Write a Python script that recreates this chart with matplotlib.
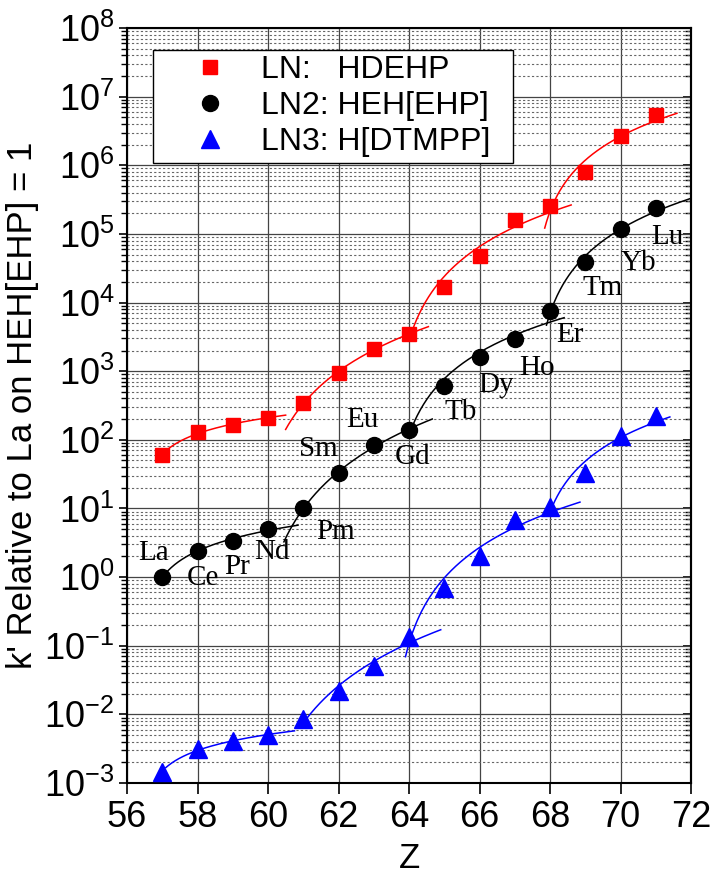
import numpy as np
import matplotlib.pyplot as plt
from matplotlib.ticker import LogLocator, MultipleLocator, NullFormatter, LogFormatterMathtext

plt.rcParams["font.family"] = "Liberation Sans"
plt.rcParams["mathtext.fontset"] = "custom"
plt.rcParams["mathtext.rm"] = "Liberation Sans"
plt.rcParams["mathtext.it"] = "Liberation Sans:italic"

# lanthanide series, atomic number and symbol
z = np.array([57, 58, 59, 60, 61, 62, 63, 64, 65, 66, 67, 68, 69, 70, 71])
elements = ["La", "Ce", "Pr", "Nd", "Pm", "Sm", "Eu", "Gd",
            "Tb", "Dy", "Ho", "Er", "Tm", "Yb", "Lu"]

# k' relative to La on HEH[EHP]
k_ln = np.array([60, 131, 165, 208, 344, 946, 2080, 3520,
                 17100, 47600, 1.6e5, 2.51e5, 8.0e5, 2.7e6, 5.46e6])
k_ln2 = np.array([1.0, 2.4, 3.37, 5.1, 10.0, 33, 83, 140,
                  603, 1600, 2900, 7550, 3.94e4, 1.17e5, 2.37e5])
k_ln3 = np.array([0.00147, 0.0031, 0.0041, 0.0050, 0.0085, 0.022, 0.050, 0.135,
                  0.69, 2.03, 6.7, 10.4, 33, 112, 220])

# tetrad groups (inclusive Z ranges) and origin of the log(Z - Z0) fit
tetrads = [(57, 60), (61, 64), (64, 68), (68, 71)]
tetrad_z0 = [56.5, 59.5, 63.5, 67.5]

# x-extent of each fitted curve, per series
spans_ln = [(57.0, 60.5), (60.5, 64.55), (64.1, 68.6), (67.85, 71.6)]
spans_ln2 = [(57.1, 60.85), (60.45, 64.66), (64.0, 68.4), (67.9, 72.0)]
spans_ln3 = [(57.1, 60.75), (61.0, 64.9), (63.9, 68.85), (68.0, 71.4)]

# label offsets (points) from the LN2 markers
label_dx = [-6.5, 3.6, 2.9, 2.9, 23.0, -14.4, -7.9, 2.9, 11.5, 12.2, 15.8, 14.4, 12.2, 13.0, 8.6]
label_dy = [17.3, -19.4, -18.7, -16.6, -17.3, 17.3, 18.0, -19.4, -18.7, -20.2, -20.2, -17.3, -18.7, -24.5, -20.9]

series = [
    ("LN:   HDEHP  ", k_ln, spans_ln, "s", "#ff0000", 10.5),
    ("LN2: HEH[EHP]  ", k_ln2, spans_ln2, "o", "#000000", 11.5),
    ("LN3: H[DTMPP]  ", k_ln3, spans_ln3, "^", "#0000ff", 12.5),
]

fig = plt.figure(figsize=(7.16, 8.8), dpi=100)
ax = fig.add_axes([0.1774, 0.1102, 0.7877, 0.8580])
ax.set_yscale("log")

for label, k, spans, marker, color, ms in series:
    logk = np.log10(k)
    for (g0, g1), z0, (x0, x1) in zip(tetrads, tetrad_z0, spans):
        sel = (z >= g0) & (z <= g1)
        # log k' linear in ln(Z - Z0) within each tetrad
        coef = np.polyfit(np.log(z[sel] - z0), logk[sel], 1)
        xx = np.linspace(x0, x1, 150)
        ax.plot(xx, 10 ** np.polyval(coef, np.log(xx - z0)), color=color,
                lw=1.1, zorder=3)
    ax.plot(z, k, linestyle="none", marker=marker, ms=ms, color=color,
            mec=color, label=label, zorder=4)

for name, zi, ki, dx, dy in zip(elements, z, k_ln2, label_dx, label_dy):
    ax.annotate(name, (zi, ki), xytext=(dx, dy), textcoords="offset points",
                ha="center", va="center", fontsize=21, family="Liberation Serif",
                zorder=5)

ax.set_xlim(56, 72)
ax.set_ylim(1e-3, 1e8)
ax.xaxis.set_major_locator(MultipleLocator(2))
ax.yaxis.set_major_locator(LogLocator(base=10, numticks=20))
ax.yaxis.set_minor_locator(LogLocator(base=10, subs=np.arange(2, 10), numticks=20))
ax.yaxis.set_major_formatter(LogFormatterMathtext())
ax.yaxis.set_minor_formatter(NullFormatter())

ax.grid(True, which="major", color="#444444", lw=0.9, zorder=0)
ax.grid(True, which="minor", axis="y", color="#666666", lw=0.8,
        linestyle=(0, (2, 2)), zorder=0)
ax.set_axisbelow(True)

ax.tick_params(axis="x", which="major", direction="out", length=8, width=1.2,
               labelsize=26, pad=4, top=False)
ax.tick_params(axis="y", which="major", direction="out", length=6, width=1.2,
               labelsize=26, pad=3)
ax.tick_params(axis="y", which="minor", direction="out", length=4, width=1.0)

sec = ax.secondary_yaxis("right")
sec.yaxis.set_major_locator(LogLocator(base=10, numticks=20))
sec.yaxis.set_minor_locator(LogLocator(base=10, subs=np.arange(2, 10), numticks=20))
sec.tick_params(which="major", direction="in", length=6, width=1.2, labelright=False)
sec.tick_params(which="minor", direction="in", length=4, width=1.0, labelright=False)
sec.spines["right"].set_linewidth(1.5)

for sp in ax.spines.values():
    sp.set_linewidth(1.5)

ax.set_xlabel("Z", fontsize=25, labelpad=5)
ax.set_ylabel("k' Relative to La on HEH[EHP] = 1", fontsize=25, labelpad=4)

leg = ax.legend(loc="upper left", bbox_to_anchor=(0.046, 0.971), borderaxespad=0,
                fontsize=23, numpoints=1, handlelength=3.2, handletextpad=0.0,
                borderpad=0.17, labelspacing=0.19, fancybox=False, framealpha=1,
                edgecolor="black")
leg.get_frame().set_linewidth(1.0)

fig.savefig("out.png", dpi=100)
